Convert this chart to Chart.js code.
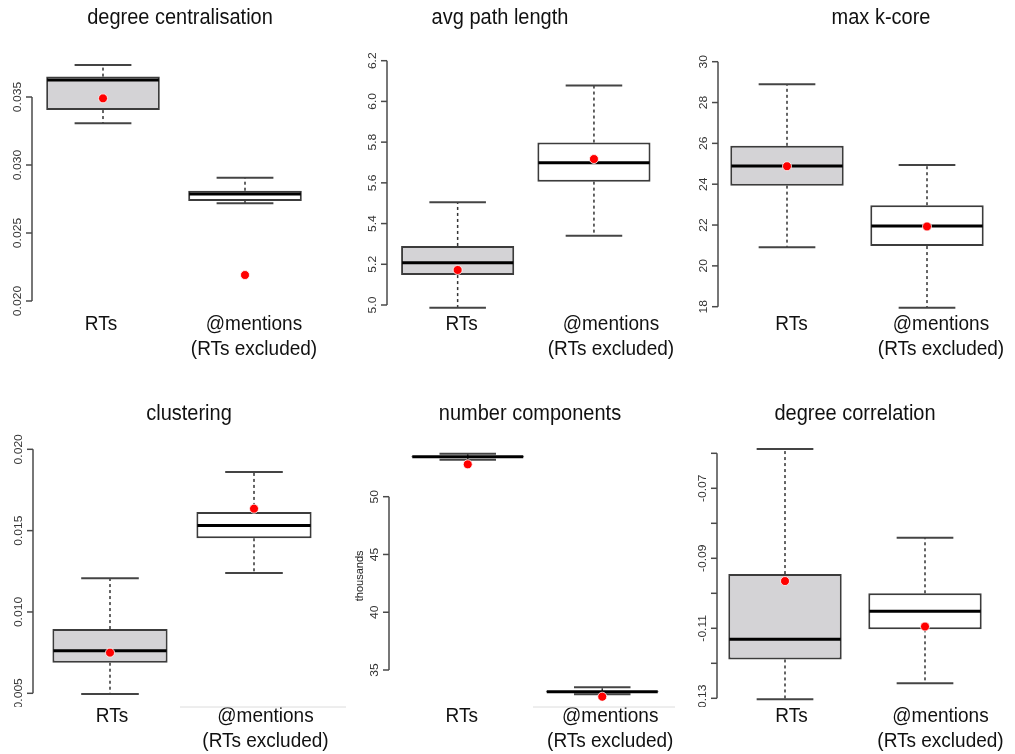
<!DOCTYPE html>
<html>
<head>
<meta charset="utf-8">
<script src="https://cdn.jsdelivr.net/npm/chart.js@4/dist/chart.umd.min.js"></script>
<style>
  body { margin: 0; background: #fff; }
  #wrap { position: relative; width: 1015px; height: 754px; overflow: hidden; }
  #wrap canvas { position: absolute; }
</style>
</head>
<body>
<div id="wrap"></div>
<script>
// Data, one entry per panel: [RTs, @mentions]
const categories = ['RTs', '@mentions'];
const categorySubLabels = ['', '(RTs excluded)'];
const titles = ['degree centralisation', 'avg path length', 'max k-core', 'clustering', 'number components', 'degree correlation'];
const yAxisTitles = ['', '', '', '', 'thousands', ''];

const whiskerLow  = [[0.03307, 0.02718], [4.987, 5.34],  [20.91, 17.95], [0.00496, 0.0124],  [53.2, 32.9],   [-0.1303, -0.1257]];
const q1          = [[0.03404, 0.02735], [5.147, 5.606], [23.93, 20.97], [0.00688, 0.01453], [53.42, 33.08], [-0.1189, -0.1103]];
const medians     = [[0.03625, 0.02787], [5.208, 5.699], [24.89, 21.95], [0.00762, 0.01531], [53.46, 33.12], [-0.1131, -0.1051]];
const q3          = [[0.0365, 0.02811],  [5.29, 5.798],  [25.88, 22.97], [0.00895, 0.01615], [53.5, 33.16],  [-0.0945, -0.1]];
const whiskerHigh = [[0.03735, 0.02907], [5.505, 6.078], [28.9, 24.94],  [0.01207, 0.01861], [53.72, 33.5],  [-0.0588, -0.0841]];
const means       = [[0.0349, 0.02191],  [5.172, 5.717], [24.88, 21.93], [0.0075, 0.01635],  [52.8, 32.69],  [-0.0965, -0.1095]];

const yTicks = [
  [0.020, 0.025, 0.030, 0.035],
  [5.0, 5.2, 5.4, 5.6, 5.8, 6.0, 6.2],
  [18, 20, 22, 24, 26, 28, 30],
  [0.005, 0.010, 0.015, 0.020],
  [35, 40, 45, 50],
  [-0.13, -0.12, -0.11, -0.10, -0.09, -0.08, -0.07, -0.06]
];
const yTickLabels = [
  ['0.020', '0.025', '0.030', '0.035'],
  ['5.0', '5.2', '5.4', '5.6', '5.8', '6.0', '6.2'],
  ['18', '20', '22', '24', '26', '28', '30'],
  ['0.005', '0.010', '0.015', '0.020'],
  ['35', '40', '45', '50'],
  ['-0.13', '', '-0.11', '', '-0.09', '', '-0.07', '']
];

// layout of each panel (page pixels)
const layouts = [
  { cell: [0, 0, 340, 375],     left: 32,    spacing: 142,   axisGap: 0,    cal: [0.020, 301, 0.035, 97],    yMin: 0.0195, yMax: 0.038,  barPct: 0.8,  labelShift: [-2, 9],     titleX: 180, row: 0 },
  { cell: [340, 0, 335, 375],   left: 389.5, spacing: 136.3, axisGap: 2.5,  cal: [5.0, 305, 6.2, 60.7],      yMin: 4.96,   yMax: 6.22,   barPct: 0.83, labelShift: [4, 17],     titleX: 500, row: 0 },
  { cell: [675, 0, 340, 375],   left: 717,   spacing: 140,   axisGap: -1,   cal: [18, 306.7, 30, 61.7],      yMin: 17.8,   yMax: 30.1,   barPct: 0.81, labelShift: [4.5, 14],   titleX: 881, row: 0 },
  { cell: [0, 375, 340, 379],   left: 38,    spacing: 144,   axisGap: 5,    cal: [0.005, 693.3, 0.020, 449.3], yMin: 0.0047, yMax: 0.0202, barPct: 0.8, labelShift: [2, 11.5],  titleX: 189, row: 1, seams: [[180, 340]] },
  { cell: [340, 375, 335, 379], left: 400.5, spacing: 135.3, axisGap: 11.5, cal: [35, 670, 50, 496.7],       yMin: 32.3,   yMax: 54,     barPct: 0.84, labelShift: [-6, 8],     titleX: 530, row: 1, seams: [[340, 346], [533, 675]] },
  { cell: [675, 375, 340, 379], left: 715,   spacing: 140,   axisGap: -2,   cal: [-0.13, 698.3, -0.06, 453.3], yMin: -0.1315, yMax: -0.057, barPct: 0.81, labelShift: [6.5, 15.5], titleX: 855, row: 1 }
];

const FONT = '"Liberation Sans", Arial, sans-serif';
const STRETCH = 1.1;

function stretchText(ctx, txt, x, y, size, color, rotate) {
  ctx.save();
  ctx.translate(x, y);
  ctx.scale(1, STRETCH);
  if (rotate) ctx.rotate(-Math.PI / 2);
  ctx.font = size + 'px ' + FONT;
  ctx.fillStyle = color;
  ctx.textAlign = 'center';
  ctx.textBaseline = 'middle';
  ctx.fillText(txt, 0, 0);
  ctx.restore();
}

function line(ctx, x1, y1, x2, y2, color, width, dash) {
  ctx.save();
  ctx.strokeStyle = color;
  ctx.lineWidth = width;
  ctx.setLineDash(dash || []);
  ctx.beginPath();
  ctx.moveTo(x1, y1);
  ctx.lineTo(x2, y2);
  ctx.stroke();
  ctx.restore();
}

const boxPlugin = {
  id: 'boxplot',
  afterDatasetDraw(chart, args, opts) {
    if (args.index !== 0) return;
    const i = opts.panel;
    const ctx = chart.ctx;
    const y = chart.scales.y;
    const meta = chart.getDatasetMeta(0);
    categories.forEach((c, j) => {
      const bar = meta.data[j];
      const cx = bar.x, half = bar.width / 2, capHalf = half / 2;
      const yLo = y.getPixelForValue(whiskerLow[i][j]);
      const yHi = y.getPixelForValue(whiskerHigh[i][j]);
      const yQ1 = y.getPixelForValue(q1[i][j]);
      const yQ3 = y.getPixelForValue(q3[i][j]);
      const yMed = y.getPixelForValue(medians[i][j]);
      line(ctx, cx, yQ3, cx, yHi, '#333', 1.5, [3, 3]);
      line(ctx, cx, yQ1, cx, yLo, '#333', 1.5, [3, 3]);
      line(ctx, cx - capHalf, yHi, cx + capHalf, yHi, '#444', 2);
      line(ctx, cx - capHalf, yLo, cx + capHalf, yLo, '#444', 2);
      line(ctx, cx - half + 1, yMed, cx + half - 1, yMed, '#000', 3);
    });
  },
  afterDraw(chart, args, opts) {
    const i = opts.panel;
    const L = layouts[i];
    const ctx = chart.ctx;
    const x = chart.scales.x, y = chart.scales.y;
    const ox = L.cell[0], oy = L.cell[1];
    const axisX = chart.chartArea.left - L.axisGap;
    const ticks = yTicks[i];

    // y axis (R style: only between first and last tick)
    const yFirst = y.getPixelForValue(ticks[0]);
    const yLast = y.getPixelForValue(ticks[ticks.length - 1]);
    line(ctx, axisX, yFirst, axisX, yLast, '#4a4a4a', 1.5);
    ctx.save();
    if (L.row === 1) {
      ctx.beginPath();
      ctx.rect(0, 0, chart.width, 707 - oy);
      ctx.clip();
    }
    ticks.forEach((t, k) => {
      const ty = y.getPixelForValue(t);
      line(ctx, axisX - 6, ty, axisX, ty, '#4a4a4a', 1.5);
      if (yTickLabels[i][k]) stretchText(ctx, yTickLabels[i][k], axisX - 14, ty, 11, '#333', true);
    });
    ctx.restore();
    if (yAxisTitles[i]) {
      const midY = (chart.chartArea.top + chart.chartArea.bottom) / 2;
      stretchText(ctx, yAxisTitles[i], axisX - 29, midY, 10, '#222', true);
    }

    // title
    stretchText(ctx, titles[i], L.titleX - ox, (L.row === 0 ? 18 : 414) - oy, 20, '#111');

    // category labels
    const baseY = (L.row === 0 ? 324 : 716) - oy;
    categories.forEach((c, j) => {
      const cx = x.getPixelForValue(j) + L.labelShift[j];
      stretchText(ctx, c, cx, baseY, 19, '#111');
      if (categorySubLabels[j]) stretchText(ctx, categorySubLabels[j], cx, baseY + 25, 19, '#111');
    });

    // faint seams left over from the pasted figure
    (L.seams || []).forEach(s => line(ctx, s[0] - ox, 707 - oy, s[1] - ox, 707 - oy, '#dcdcdc', 1));
  }
};

const wrap = document.getElementById('wrap');
layouts.forEach((L, i) => {
  const [cx, cy, cw, ch] = L.cell;
  const toPx = v => L.cal[1] + (v - L.cal[0]) * (L.cal[3] - L.cal[1]) / (L.cal[2] - L.cal[0]);
  const canvas = document.createElement('canvas');
  canvas.width = cw;
  canvas.height = ch;
  canvas.style.left = cx + 'px';
  canvas.style.top = cy + 'px';
  wrap.appendChild(canvas);

  new Chart(canvas.getContext('2d'), {
    type: 'bar',
    data: {
      labels: categories,
      datasets: [{
        type: 'bar',
        data: categories.map((c, j) => [q1[i][j], q3[i][j]]),
        backgroundColor: ['#d4d3d6', '#ffffff'],
        borderColor: '#3c3c3c',
        borderWidth: 2,
        borderSkipped: false,
        barPercentage: L.barPct,
        categoryPercentage: 1,
        order: 2
      }, {
        type: 'line',
        data: means[i],
        showLine: false,
        pointRadius: 4.5,
        pointBackgroundColor: '#ff0000',
        pointBorderColor: 'rgba(255,255,255,0.8)',
        pointBorderWidth: 1,
        order: 1
      }]
    },
    options: {
      responsive: false,
      animation: false,
      devicePixelRatio: 1,
      layout: {
        padding: {
          left: L.left - cx,
          right: cx + cw - (L.left + 2 * L.spacing),
          top: toPx(L.yMax) - cy,
          bottom: cy + ch - toPx(L.yMin)
        }
      },
      plugins: {
        legend: { display: false },
        tooltip: { enabled: false },
        boxplot: { panel: i }
      },
      scales: {
        x: { type: 'category', display: false, offset: true },
        y: { type: 'linear', display: false, min: L.yMin, max: L.yMax }
      }
    },
    plugins: [boxPlugin]
  });
});
</script>
</body>
</html>
